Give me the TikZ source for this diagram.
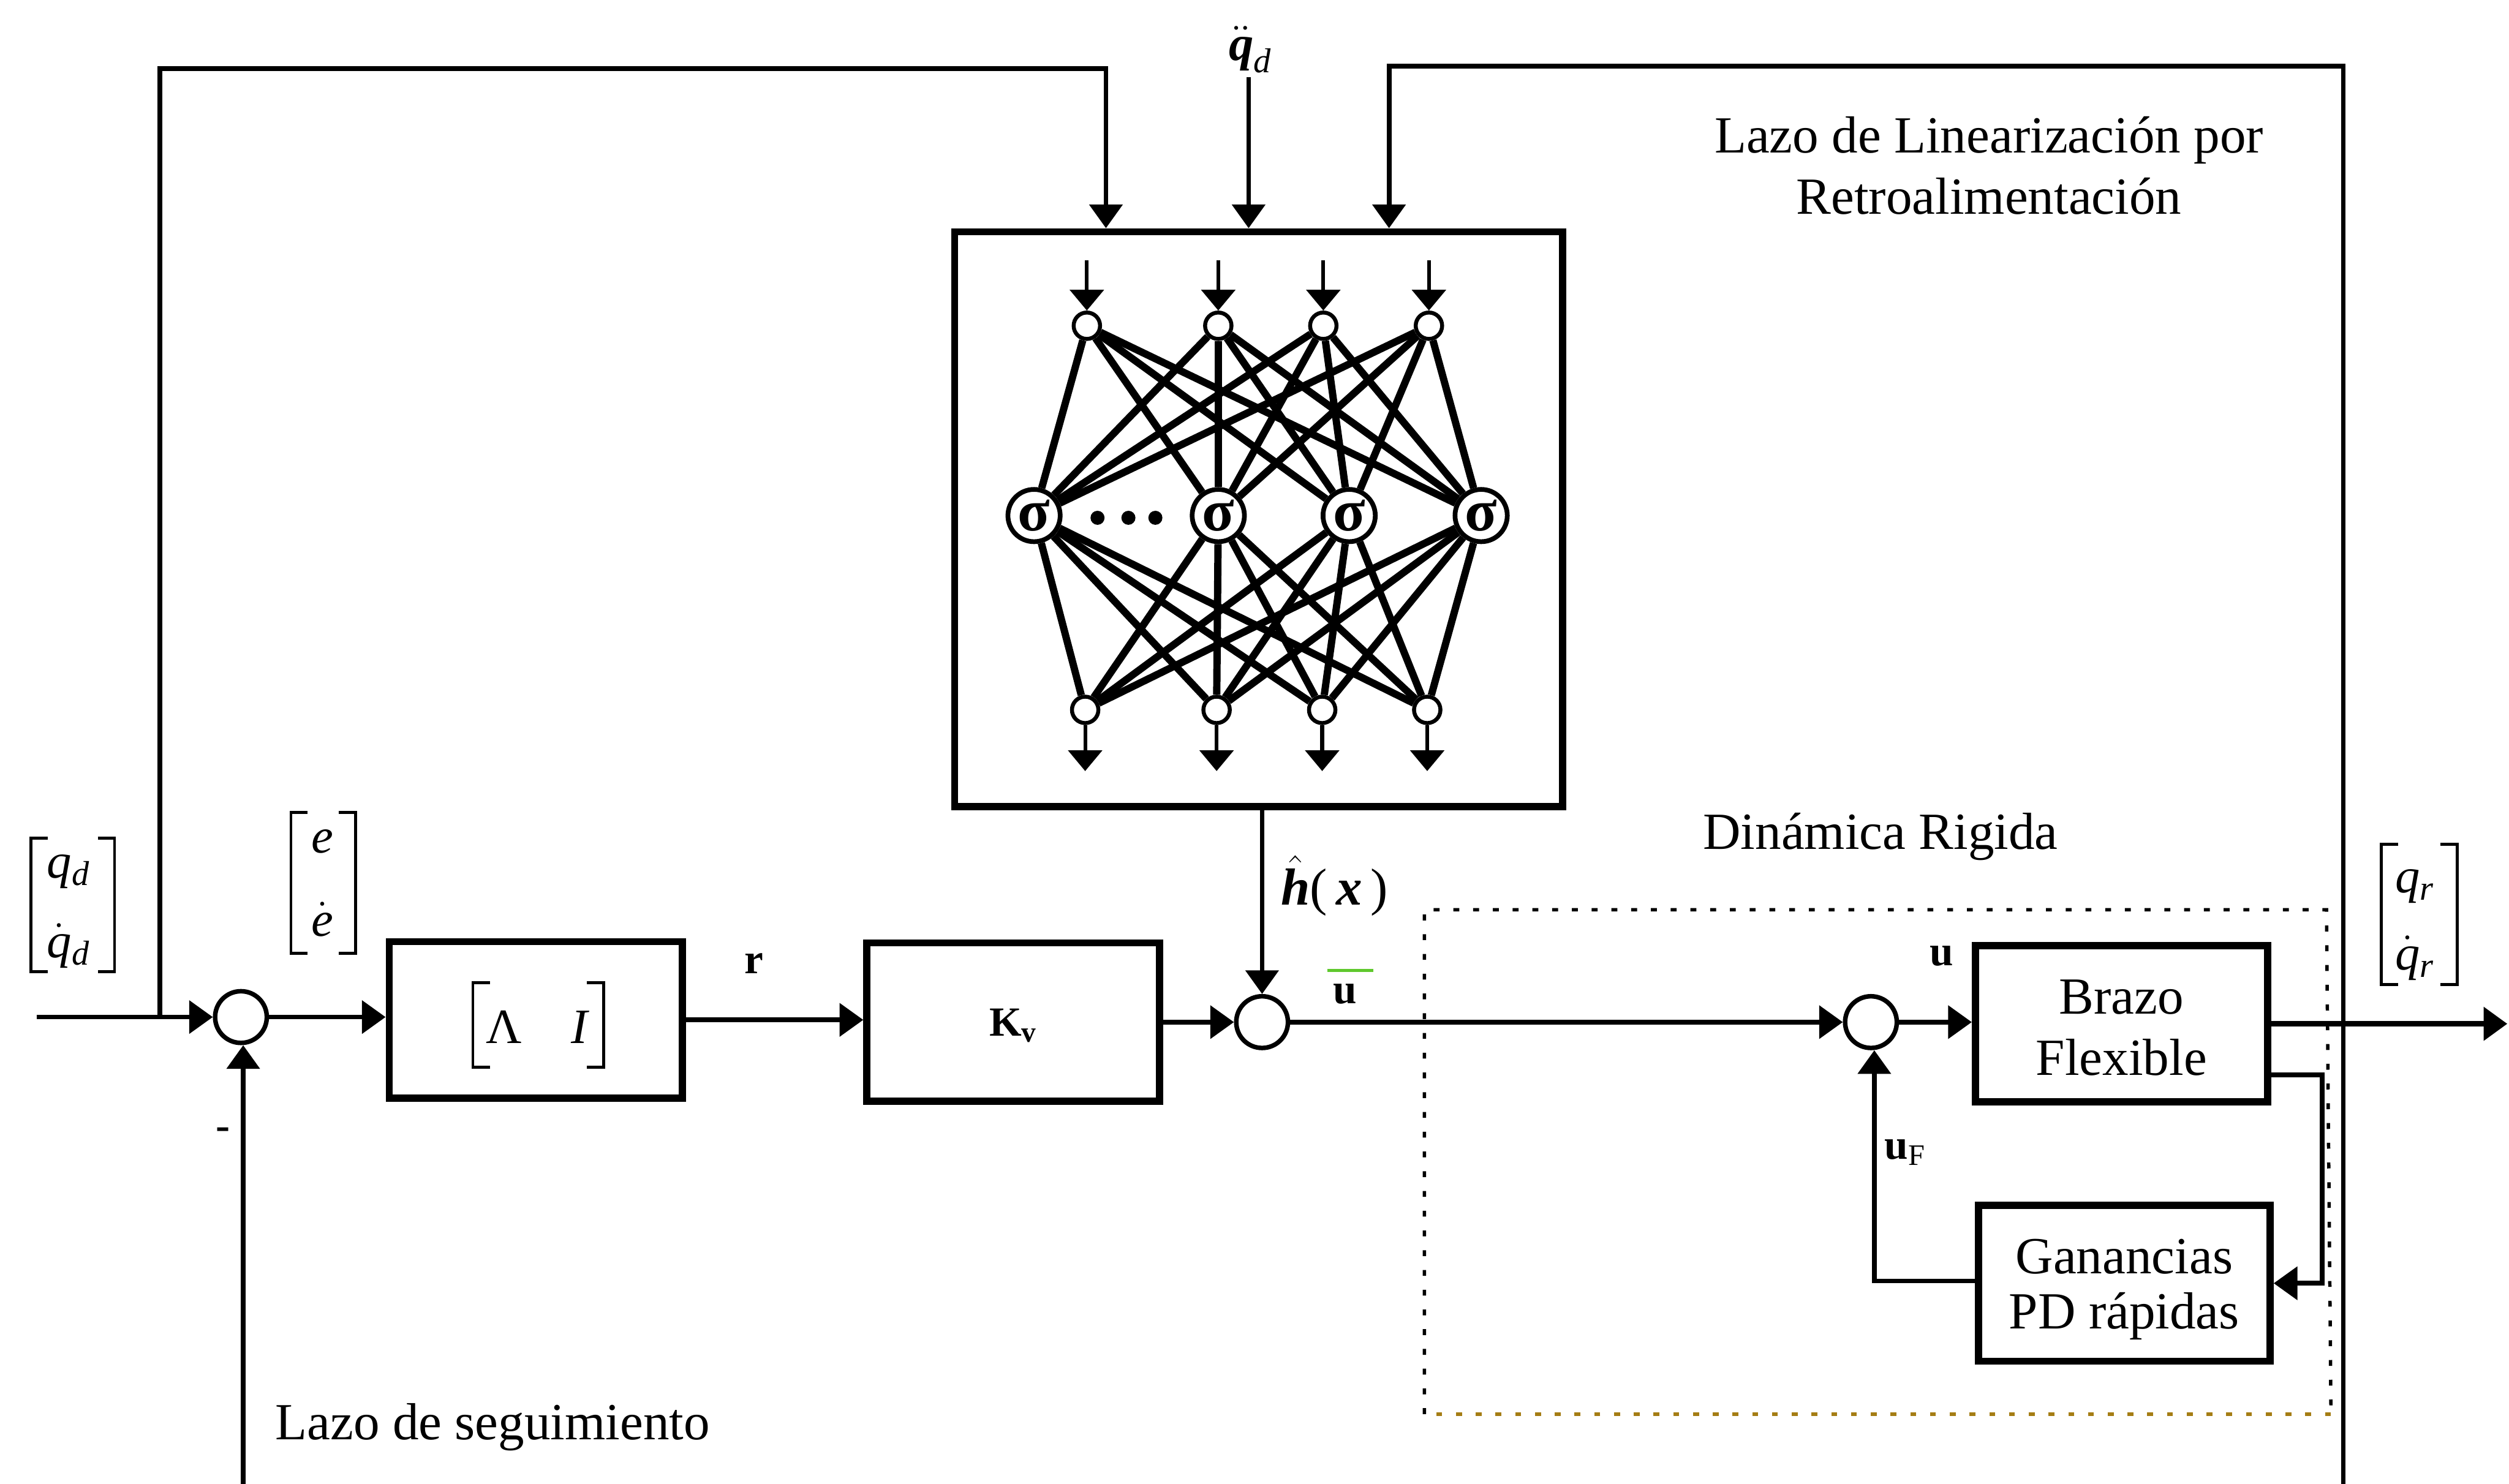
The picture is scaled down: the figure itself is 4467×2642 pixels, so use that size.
\documentclass[tikz,border=0pt]{standalone}
\usepackage{fontspec}
\setmainfont{Liberation Serif}
\usetikzlibrary{arrows.meta}
\definecolor{barverde}{RGB}{95,200,45}
\definecolor{puntos}{RGB}{165,125,20}
\newcommand{\tsize}{\fontsize{26.4}{30.8}\selectfont}
\newcommand{\msize}{\fontsize{25}{28}\selectfont}
\newcommand{\lsize}{\fontsize{21.5}{26}\selectfont}
\newcommand{\corchete}[4]{%
  \draw[brk] (#1+30,#3) -- (#1,#3) -- (#1,#4) -- (#1+30,#4);
  \draw[brk] (#2-30,#3) -- (#2,#3) -- (#2,#4) -- (#2-30,#4);}
\tikzset{
  block/.style={draw,line width=3.6pt,inner sep=0pt,align=center,fill=white,font=\tsize},
  sumnode/.style={draw,circle,line width=2.3pt,minimum size=0.92cm,inner sep=0pt,fill=white},
  innode/.style={draw,circle,line width=2pt,minimum size=0.47cm,inner sep=0pt,fill=white},
  signode/.style={draw,circle,line width=2.4pt,minimum size=0.93cm,inner sep=0pt,fill=white,font=\fontsize{30}{30}\selectfont\bfseries},
  conn/.style={line width=2.4pt},
  arr/.style={conn,-{Triangle[length=12pt,width=16.5pt]}},
  smallarr/.style={line width=1.9pt,-{Triangle[length=10.5pt,width=17pt]}},
  web/.style={line width=3.7pt},
  brk/.style={line width=1.5pt},
  label/.style={inner sep=0pt,font=\tsize,align=center},
  mathlabel/.style={inner sep=0pt,font=\msize},
  boldlabel/.style={inner sep=0pt,font=\lsize\bfseries},
  dotbox/.style={line width=1.7pt,dash pattern=on 3pt off 7pt},
}
\begin{document}
\begin{tikzpicture}[x=0.01cm,y=-0.01cm]
\useasboundingbox (0,0) rectangle (4467,2642);

% blocks
\node[block,minimum width=10.82cm,minimum height=10.23cm] (nn) at (2241,924.5) {};
\node[block,minimum width=5.22cm,minimum height=2.78cm] (li) at (954,1816) {};
\node[block,minimum width=5.21cm,minimum height=2.82cm] (kv) at (1804,1820) {};
\node[block,minimum width=5.20cm,minimum height=2.78cm] (br) at (3777,1823) {};
\node[block,minimum width=5.19cm,minimum height=2.77cm] (ga) at (3782,2285) {};

% summing junctions
\node[sumnode] (s1) at (429,1811) {};
\node[sumnode] (s2) at (2247,1820) {};
\node[sumnode] (s3) at (3331,1820) {};

% free ends and corners
\coordinate (inL) at (65,1811);
\coordinate (tap) at (285,1811);
\coordinate (tl) at (285,122);
\coordinate (tr) at (1969,122);
\coordinate (ddq) at (2223,137);
\coordinate (rtop) at (4172,118);
\coordinate (rbot) at (4172,2642);
\coordinate (nnr) at (2473,118);
\coordinate (fbot) at (433,2642);
\coordinate (outR) at (4464,1823);
\coordinate (fbk1) at (3337,2281);
\coordinate (brq) at (4037,1914);
\coordinate (brc) at (4134,1914);
\coordinate (gac) at (4134,2285);

% main signal path
\draw[conn,-] (inL) -- (tap);
\draw[arr] (tap) -- (s1.west);
\draw[arr] (s1.east) -- (s1.east -| li.west);
\draw[arr] (li.east) -- (li.east -| kv.west);
\draw[arr] (kv.east) -- (kv.east -| s2.west);
\draw[arr] (s2.east) -- (s3.west);
\draw[arr] (s3.east) -- (s3.east -| br.west);
\draw[arr,line width=2.9pt] (br.east) -- (outR);

% tracking and linearization loops
\draw[arr] (tap) -- (tl) -- (tr) -- (tr |- nn.north);
\draw[arr] (ddq) -- (ddq |- nn.north);
\draw[arr] (rbot) -- (rtop) -- (nnr) -- (nnr |- nn.north);
\draw[arr] (fbot) -- (fbot |- s1.south);
\draw[arr] (nn.south -| s2) -- (s2.north);

% fast inner loop
\draw[arr] (brq) -- (brc) -- (gac) -- (gac -| ga.east);
\draw[arr] (ga.west |- fbk1) -- (fbk1) -- (fbk1 |- s3.south);

% dotted box
\draw[dotbox] (2536,2518) -- (2536,1620) -- (4142,1620) -- (4150,2518);
\draw[dotbox,puntos] (4150,2518) -- (2536,2518);

% neural network nodes
\foreach \n/\x in {1/1935,2/2169,3/2356,4/2544}{
  \node[innode] (t\n) at (\x,580) {};
  \coordinate (ti\n) at (\x,464);
}
\foreach \n/\x in {1/1841,2/2169,3/2402,4/2637}{
  \node[signode] (m\n) at (\x,918) {σ};
}
\foreach \n/\x in {1/1932,2/2166,3/2354,4/2541}{
  \node[innode] (b\n) at (\x,1264) {};
  \coordinate (bo\n) at (\x,1373);
}
\foreach \i in {1,2,3,4}{
  \foreach \j in {1,2,3,4}{
    \draw[web] (t\i) -- (m\j);
    \draw[web] (m\i) -- (b\j);
  }
  \draw[smallarr] (ti\i) -- (t\i.north);
  \draw[smallarr] (b\i.south) -- (bo\i);
}
\node[fill=black,circle,minimum size=0.25cm,inner sep=0pt] (d1) at (1954,922) {};
\node[fill=black,circle,minimum size=0.25cm,inner sep=0pt] (d2) at (2009,922) {};
\node[fill=black,circle,minimum size=0.25cm,inner sep=0pt] (d3) at (2057,922) {};

% labels
\node[label] (l1) at (3541,250) {Lazo de Linearización por};
\node[label] (l2) at (3541,349) {Retroalimentación};
\node[label] (l3) at (3348,1490) {Dinámica Rigida};
\node[label] (l4) at (877,2541) {Lazo de seguimiento};
\node[label] (brt) at (3777,1830) {Brazo\\Flexible};
\node[label] (gat) at (3782,2296) {Ganancias\\[-3pt]PD rápidas};
\node[inner sep=0pt,font=\fontsize{21}{24}\selectfont] (kvt) at (1804,1826) {\textbf{K}$_{\mathbf{v}}$};

\node[mathlabel] (qdd) at (2226,88) {$\ddot{\mbox{\textit{\textbf{q}}}}_{\mathit{d}}$};
\node[mathlabel] (qd) at (122,1552) {$\mathit{q}_{\mathit{d}}$};
\node[mathlabel] (qdp) at (122,1684) {$\dot{\mathit{q}}_{\mathit{d}}$};
\corchete{55}{204}{1492}{1730}
\node[mathlabel] (e) at (574,1498) {$\mathit{e}$};
\node[mathlabel] (ep) at (574,1637) {$\dot{\mathit{e}}$};
\corchete{518}{633}{1447}{1697}
\node[mathlabel] (qr) at (4299,1578) {$\mathit{q}_{\mathit{r}}$};
\node[mathlabel] (qrp) at (4299,1706) {$\dot{\mathit{q}}_{\mathit{r}}$};
\corchete{4240}{4375}{1503}{1753}

\node[label,font=\fontsize{25}{25}\selectfont] (lam) at (897,1829) {Λ};
\node[label,font=\fontsize{25}{25}\selectfont\itshape] (ii) at (1032,1829) {I};
\corchete{842}{1075}{1750}{1900}

\node[boldlabel] (r) at (1342,1716) {r};
\node[boldlabel] (ub) at (2395,1770) {u};
\draw[line width=1.7pt,barverde] (2363,1728) -- (2445,1728);
\node[boldlabel] (u) at (3457,1702) {u};
\node[boldlabel] (uf) at (3392,2052) {u$_{\mathrm{F}}$};
\node[label] (hx) at (2376,1577) {$\hat{\mbox{\textit{\textbf{h}}}}$(\,\textit{\textbf{x}}\,)};
\node[boldlabel] (minus) at (397,2019) {-};
\end{tikzpicture}
\end{document}
